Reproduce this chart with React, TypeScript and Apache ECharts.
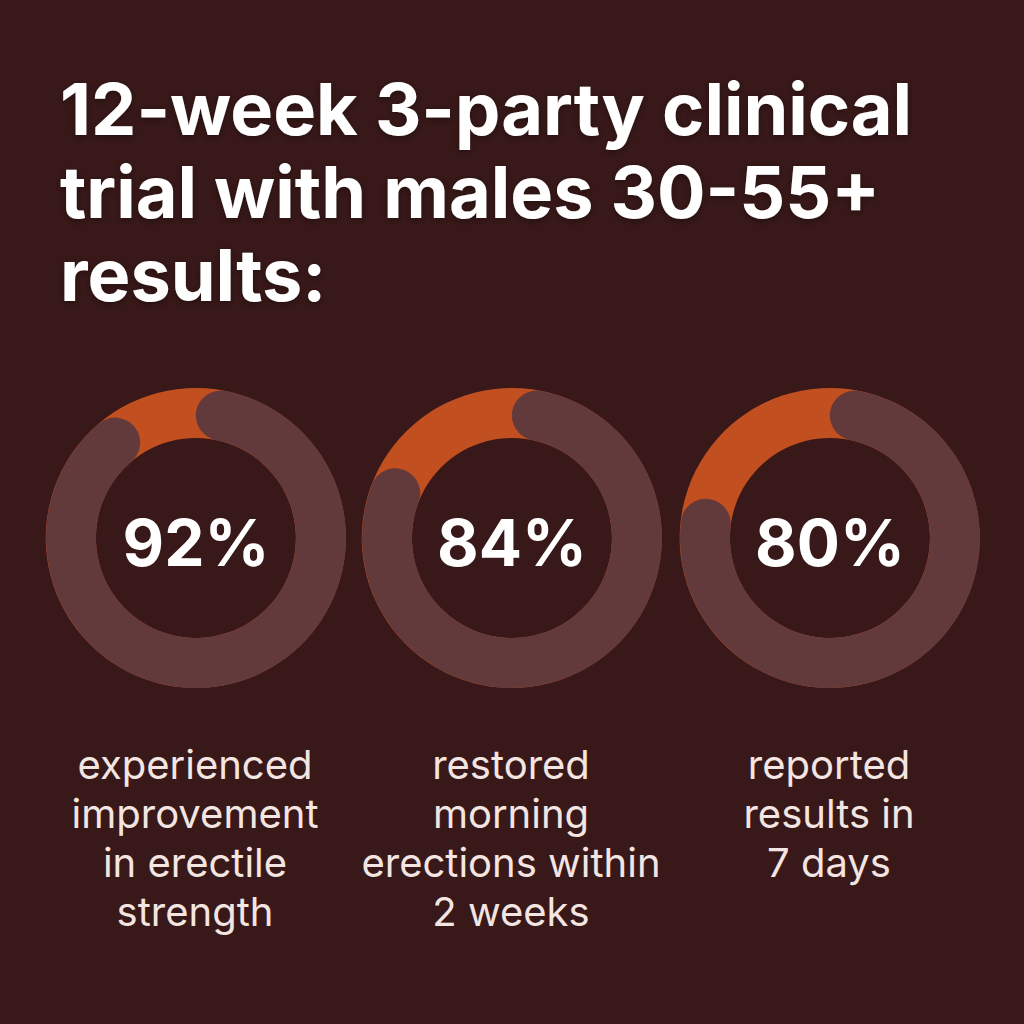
import React, { useEffect, useRef } from "react";
import * as echarts from "echarts";

const titleLines = ["12-week 3-party clinical", "trial with males 30-55+", "results:"];
const percentages = [92, 84, 80];
const percentLabels = ["92%", "84%", "80%"];
const descriptions = [
  ["experienced", "improvement", "in erectile", "strength"],
  ["restored", "morning", "erections within", "2 weeks"],
  ["reported", "results in", "7 days"],
];

const BG = "#381818";
const RING = "#633a3b";
const ORANGE = "#c24f20";
const centersX = [196, 512, 830];
const centerY = 538;
const R = 150;
const W = 50;

export default function App() {
  const ref = useRef<HTMLDivElement>(null);
  useEffect(() => {
    document.body.style.margin = "0";
    const chart = echarts.init(ref.current!, null, { renderer: "svg" });
    const capRad = W / 2 / (R - W / 2);
    const capDeg = (capRad * 180) / Math.PI;
    const capPct = (capDeg / 360) * 100;

    const series: any[] = percentages.map((p, i) => ({
      type: "gauge",
      center: [centersX[i], centerY],
      radius: R,
      startAngle: 90 - capDeg,
      endAngle: 90 - capDeg - 360,
      min: 0,
      max: 100,
      progress: { show: true, width: W, roundCap: true, itemStyle: { color: RING } },
      axisLine: { roundCap: false, lineStyle: { width: W, color: [[1, ORANGE]] } },
      pointer: { show: false },
      anchor: { show: false },
      axisTick: { show: false },
      splitLine: { show: false },
      axisLabel: { show: false },
      title: { show: false },
      detail: {
        offsetCenter: [0, 4],
        formatter: () => percentLabels[i],
        fontSize: 64,
        fontWeight: "bold",
        fontFamily: "Inter",
        color: "#ffffff",
      },
      data: [{ value: p - 2 * capPct }],
    }));

    const titles: any[] = [
      {
        text: titleLines.join("\n"),
        left: 60,
        top: 67,
        padding: 0,
        textStyle: {
          color: "#ffffff",
          fontSize: 72,
          fontWeight: "bold",
          fontFamily: "Inter",
          lineHeight: 83,
          textShadowColor: "rgba(0,0,0,0.35)",
          textShadowBlur: 6,
          textShadowOffsetY: 2,
        },
      },
      ...descriptions.map((lines, i) => ({
        text: lines.join("\n"),
        left: centersX[i] - 1,
        top: 740,
        padding: 0,
        textAlign: "center",
        textStyle: {
          color: "#f3e5e1",
          fontSize: 40,
          fontWeight: "normal",
          fontFamily: "Inter",
          lineHeight: 49,
          align: "center",
        },
      })),
    ];

    chart.setOption({
      animation: false,
      backgroundColor: BG,
      title: titles,
      series,
    });
    return () => chart.dispose();
  }, []);
  return <div ref={ref} style={{ width: 1024, height: 1024 }} />;
}
